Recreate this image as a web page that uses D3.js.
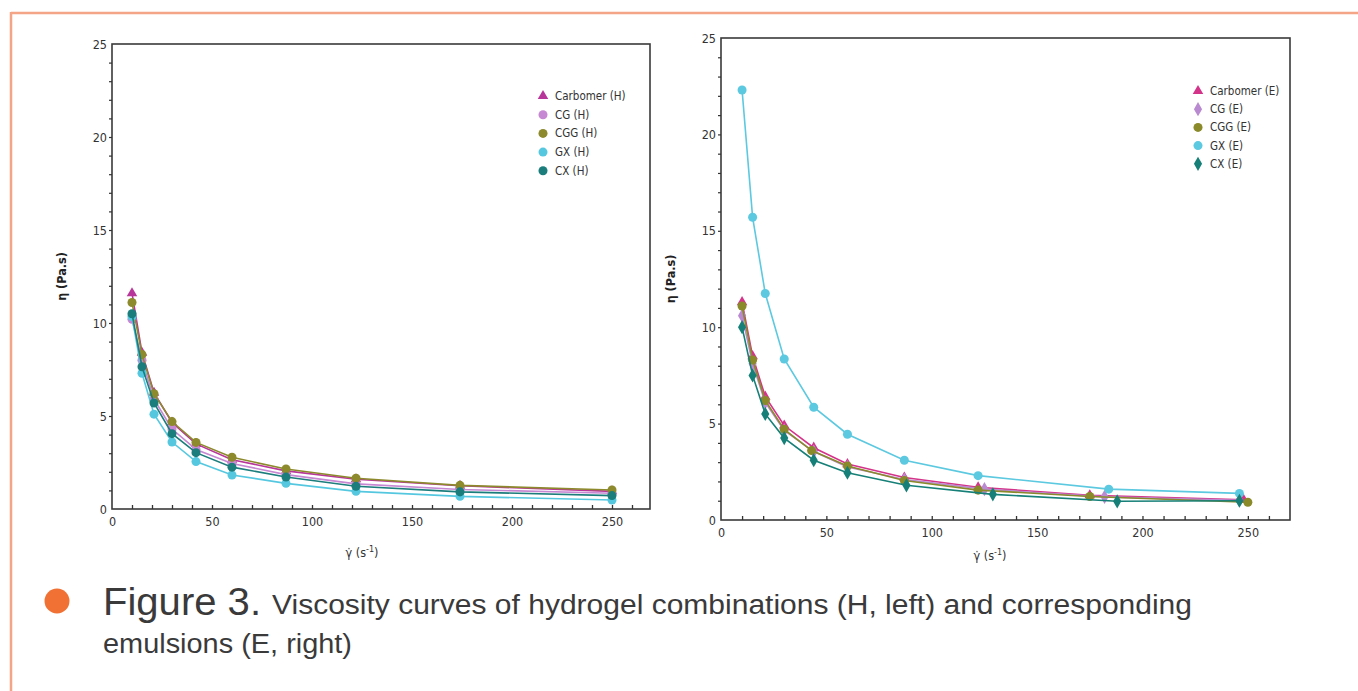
<!DOCTYPE html>
<html>
<head>
<meta charset="utf-8">
<script src="https://cdn.jsdelivr.net/npm/d3@7/dist/d3.min.js"></script>
<style>
  html, body { margin: 0; padding: 0; background: #fff; }
  svg { display: block; }
</style>
</head>
<body>
<svg id="chart" width="1358" height="691"></svg>
<script>
// ---------- DATA ----------
const seriesNamesH = ["Carbomer (H)", "CG (H)", "CGG (H)", "GX (H)", "CX (H)"];
const seriesNamesE = ["Carbomer (E)", "CG (E)", "CGG (E)", "GX (E)", "CX (E)"];

// Hydrogels (left): shear rate (1/s)
const shearH = [10, 15, 21, 30, 42, 60, 87, 122, 174, 250];
const carbomerH = [11.6, 8.4, 6.25, 4.65, 3.5, 2.65, 2.05, 1.6, 1.25, 0.95];
const cgH       = [10.2, 8.0, 5.9, 4.3, 3.2, 2.45, 1.85, 1.35, 1.05, 0.85];
const cggH      = [11.1, 8.3, 6.2, 4.7, 3.58, 2.78, 2.15, 1.65, 1.27, 1.02];
const gxH       = [10.35, 7.3, 5.1, 3.6, 2.55, 1.83, 1.38, 0.95, 0.68, 0.48];
const cxH       = [10.5, 7.65, 5.7, 4.05, 3.03, 2.25, 1.72, 1.22, 0.92, 0.72];

// Emulsions (right): shear rates per series
const shearCarbomerE = [10, 15, 21, 30, 44, 60, 87, 122, 175, 248];
const shearCgE       = [10, 15, 21, 30, 44, 60, 87, 125, 182, 246];
const shearCggE      = [10, 15, 21, 30, 43, 60, 87, 122, 175, 250];
const shearGxE       = [10, 15, 21, 30, 44, 60, 87, 122, 184, 246];
const shearCxE       = [10, 15, 21, 30, 44, 60, 88, 129, 188, 246];
const carbomerE = [11.3, 8.5, 6.4, 4.9, 3.75, 2.9, 2.2, 1.7, 1.28, 1.05];
const cgE       = [10.6, 8.1, 6.1, 4.65, 3.55, 2.75, 2.1, 1.6, 1.2, 1.02];
const cggE      = [11.1, 8.3, 6.2, 4.7, 3.6, 2.8, 2.05, 1.55, 1.22, 0.92];
const gxE       = [22.3, 15.7, 11.75, 8.35, 5.85, 4.45, 3.1, 2.3, 1.6, 1.38];
const cxE       = [10.0, 7.5, 5.5, 4.25, 3.1, 2.45, 1.8, 1.33, 0.97, 1.0];

const xTickValues = [0, 50, 100, 150, 200, 250];
const yTickValues = [0, 5, 10, 15, 20, 25];

const colorsH = ["#b8359a", "#c688d2", "#8c8a2c", "#55c8e0", "#1b7d7c"];
const colorsE = ["#d4338a", "#b98ad0", "#8a8a2a", "#5cc9e0", "#168078"];
const shapesH = ["triangle", "circle", "circle", "circle", "circle"];
const shapesE = ["triangle", "diamond", "circle", "circle", "diamond"];

const leftSeries = [
  { name: seriesNamesH[0], x: shearH, y: carbomerH },
  { name: seriesNamesH[1], x: shearH, y: cgH },
  { name: seriesNamesH[2], x: shearH, y: cggH },
  { name: seriesNamesH[3], x: shearH, y: gxH },
  { name: seriesNamesH[4], x: shearH, y: cxH }
];
const rightSeries = [
  { name: seriesNamesE[0], x: shearCarbomerE, y: carbomerE },
  { name: seriesNamesE[1], x: shearCgE, y: cgE },
  { name: seriesNamesE[2], x: shearCggE, y: cggE },
  { name: seriesNamesE[3], x: shearGxE, y: gxE },
  { name: seriesNamesE[4], x: shearCxE, y: cxE }
];

// ---------- DRAW ----------
const svg = d3.select("#chart");
const tickFont = "'Liberation Sans Narrow', 'DejaVu Sans Condensed', 'Liberation Sans', sans-serif";

// orange frame
svg.append("line").attr("x1", 11).attr("x2", 1358).attr("y1", 13).attr("y2", 13)
  .attr("stroke", "#f4a487").attr("stroke-width", 2.5);
svg.append("line").attr("x1", 11).attr("x2", 11).attr("y1", 12).attr("y2", 691)
  .attr("stroke", "#f4a487").attr("stroke-width", 2.5);

function symbolFor(shape) {
  if (shape === "triangle") return d3.symbol().type(d3.symbolTriangle).size(48);
  if (shape === "diamond") return d3.symbol().type(d3.symbolDiamond).size(58);
  return d3.symbol().type(d3.symbolCircle).size(64);
}

function drawPanel(cfg) {
  const g = svg.append("g");
  const x = d3.scaleLinear().domain([0, cfg.xMax]).range([cfg.left, cfg.right]);
  const y = d3.scaleLinear().domain([0, 25]).range([cfg.bottom, cfg.top]);

  // frame
  g.append("rect").attr("x", cfg.left).attr("y", cfg.top)
    .attr("width", cfg.right - cfg.left).attr("height", cfg.bottom - cfg.top)
    .attr("fill", "none").attr("stroke", "#3a3a3a").attr("stroke-width", 1.6);

  // x axis
  const xAxis = d3.axisBottom(x).tickValues(xTickValues).tickSize(0).tickPadding(8)
    .tickFormat(d3.format("d"));
  const gx = g.append("g").attr("transform", `translate(0,${cfg.bottom})`).call(xAxis);
  gx.select(".domain").remove();
  gx.selectAll("text").attr("font-family", tickFont).attr("font-size", 12.5).attr("fill", "#333");
  const xMinor = g.append("g").attr("transform", `translate(0,${cfg.bottom})`)
    .call(d3.axisBottom(x).tickValues(d3.range(10, cfg.xMax, 10)).tickSize(-4).tickFormat(""));
  xMinor.select(".domain").remove();
  xMinor.selectAll("line").attr("stroke", "#333").attr("stroke-width", 1.3);

  // y axis
  const yAxis = d3.axisLeft(y).tickValues(yTickValues).tickSize(0).tickPadding(5)
    .tickFormat(d3.format("d"));
  const gy = g.append("g").attr("transform", `translate(${cfg.left},0)`).call(yAxis);
  gy.select(".domain").remove();
  gy.selectAll("text").attr("font-family", tickFont).attr("font-size", 12.5).attr("fill", "#333");
  const yMinor = g.append("g").attr("transform", `translate(${cfg.left},0)`)
    .call(d3.axisLeft(y).tickValues(d3.range(1, 25, 1)).tickSize(3).tickFormat(""));
  yMinor.select(".domain").remove();
  yMinor.selectAll("line").attr("stroke", "#333").attr("stroke-width", 1.2);

  // axis titles
  g.append("text")
    .attr("transform", `translate(${cfg.yTitleX},${(cfg.top + cfg.bottom) / 2}) rotate(-90)`)
    .attr("text-anchor", "middle")
    .attr("font-family", tickFont).attr("font-weight", "bold").attr("font-size", 12.5)
    .attr("fill", "#222")
    .text("η (Pa.s)");
  const xt = g.append("text")
    .attr("x", cfg.xTitleX).attr("y", cfg.xTitleY)
    .attr("text-anchor", "middle")
    .attr("font-family", tickFont).attr("font-size", 12.5).attr("fill", "#333");
  xt.append("tspan").text("γ̇ (s");
  xt.append("tspan").attr("dy", -5).attr("font-size", 9).text("-1");
  xt.append("tspan").attr("dy", 5).text(")");

  // series
  const line = d3.line().x(d => x(d[0])).y(d => y(d[1]));
  cfg.series.forEach((s, i) => {
    const pts = s.x.map((v, k) => [v, s.y[k]]);
    g.append("path").datum(pts).attr("d", line)
      .attr("fill", "none").attr("stroke", cfg.colors[i]).attr("stroke-width", 1.6);
    g.selectAll(null).data(pts).enter().append("path")
      .attr("transform", d => `translate(${x(d[0])},${y(d[1])})`)
      .attr("d", symbolFor(cfg.shapes[i])())
      .attr("fill", cfg.colors[i]);
  });

  // legend
  cfg.series.forEach((s, i) => {
    const ly = cfg.legendY + i * cfg.legendStep;
    g.append("path").attr("transform", `translate(${cfg.legendX},${ly})`)
      .attr("d", symbolFor(cfg.shapes[i])()).attr("fill", cfg.colors[i]);
    g.append("text").attr("x", cfg.legendX + 12).attr("y", ly + 4)
      .attr("font-family", tickFont).attr("font-size", 11.5).attr("fill", "#333")
      .text(s.name);
  });
}

drawPanel({
  left: 112, right: 650, top: 44, bottom: 509, xMax: 269,
  series: leftSeries, colors: colorsH, shapes: shapesH,
  yTitleX: 66, xTitleX: 362, xTitleY: 557,
  legendX: 543, legendY: 96, legendStep: 18.7
});
drawPanel({
  left: 721, right: 1290, top: 38, bottom: 520, xMax: 270,
  series: rightSeries, colors: colorsE, shapes: shapesE,
  yTitleX: 675, xTitleX: 990, xTitleY: 560,
  legendX: 1198, legendY: 91, legendStep: 18.2
});

// caption
svg.append("circle").attr("cx", 57).attr("cy", 601).attr("r", 12.5).attr("fill", "#f07133");
const capFont = "'Liberation Sans', Arial, sans-serif";
svg.append("text").attr("x", 103).attr("y", 615)
  .attr("font-family", capFont).attr("font-size", 39).attr("fill", "#3a3a3a")
  .attr("textLength", 158).attr("lengthAdjust", "spacingAndGlyphs")
  .text("Figure 3.");
svg.append("text").attr("x", 272).attr("y", 614)
  .attr("font-family", capFont).attr("font-size", 27).attr("fill", "#3a3a3a")
  .attr("textLength", 920).attr("lengthAdjust", "spacingAndGlyphs")
  .text("Viscosity curves of hydrogel combinations (H, left) and corresponding");
svg.append("text").attr("x", 103).attr("y", 653)
  .attr("font-family", capFont).attr("font-size", 27).attr("fill", "#3a3a3a")
  .attr("textLength", 249).attr("lengthAdjust", "spacingAndGlyphs")
  .text("emulsions (E, right)");
</script>
</body>
</html>
